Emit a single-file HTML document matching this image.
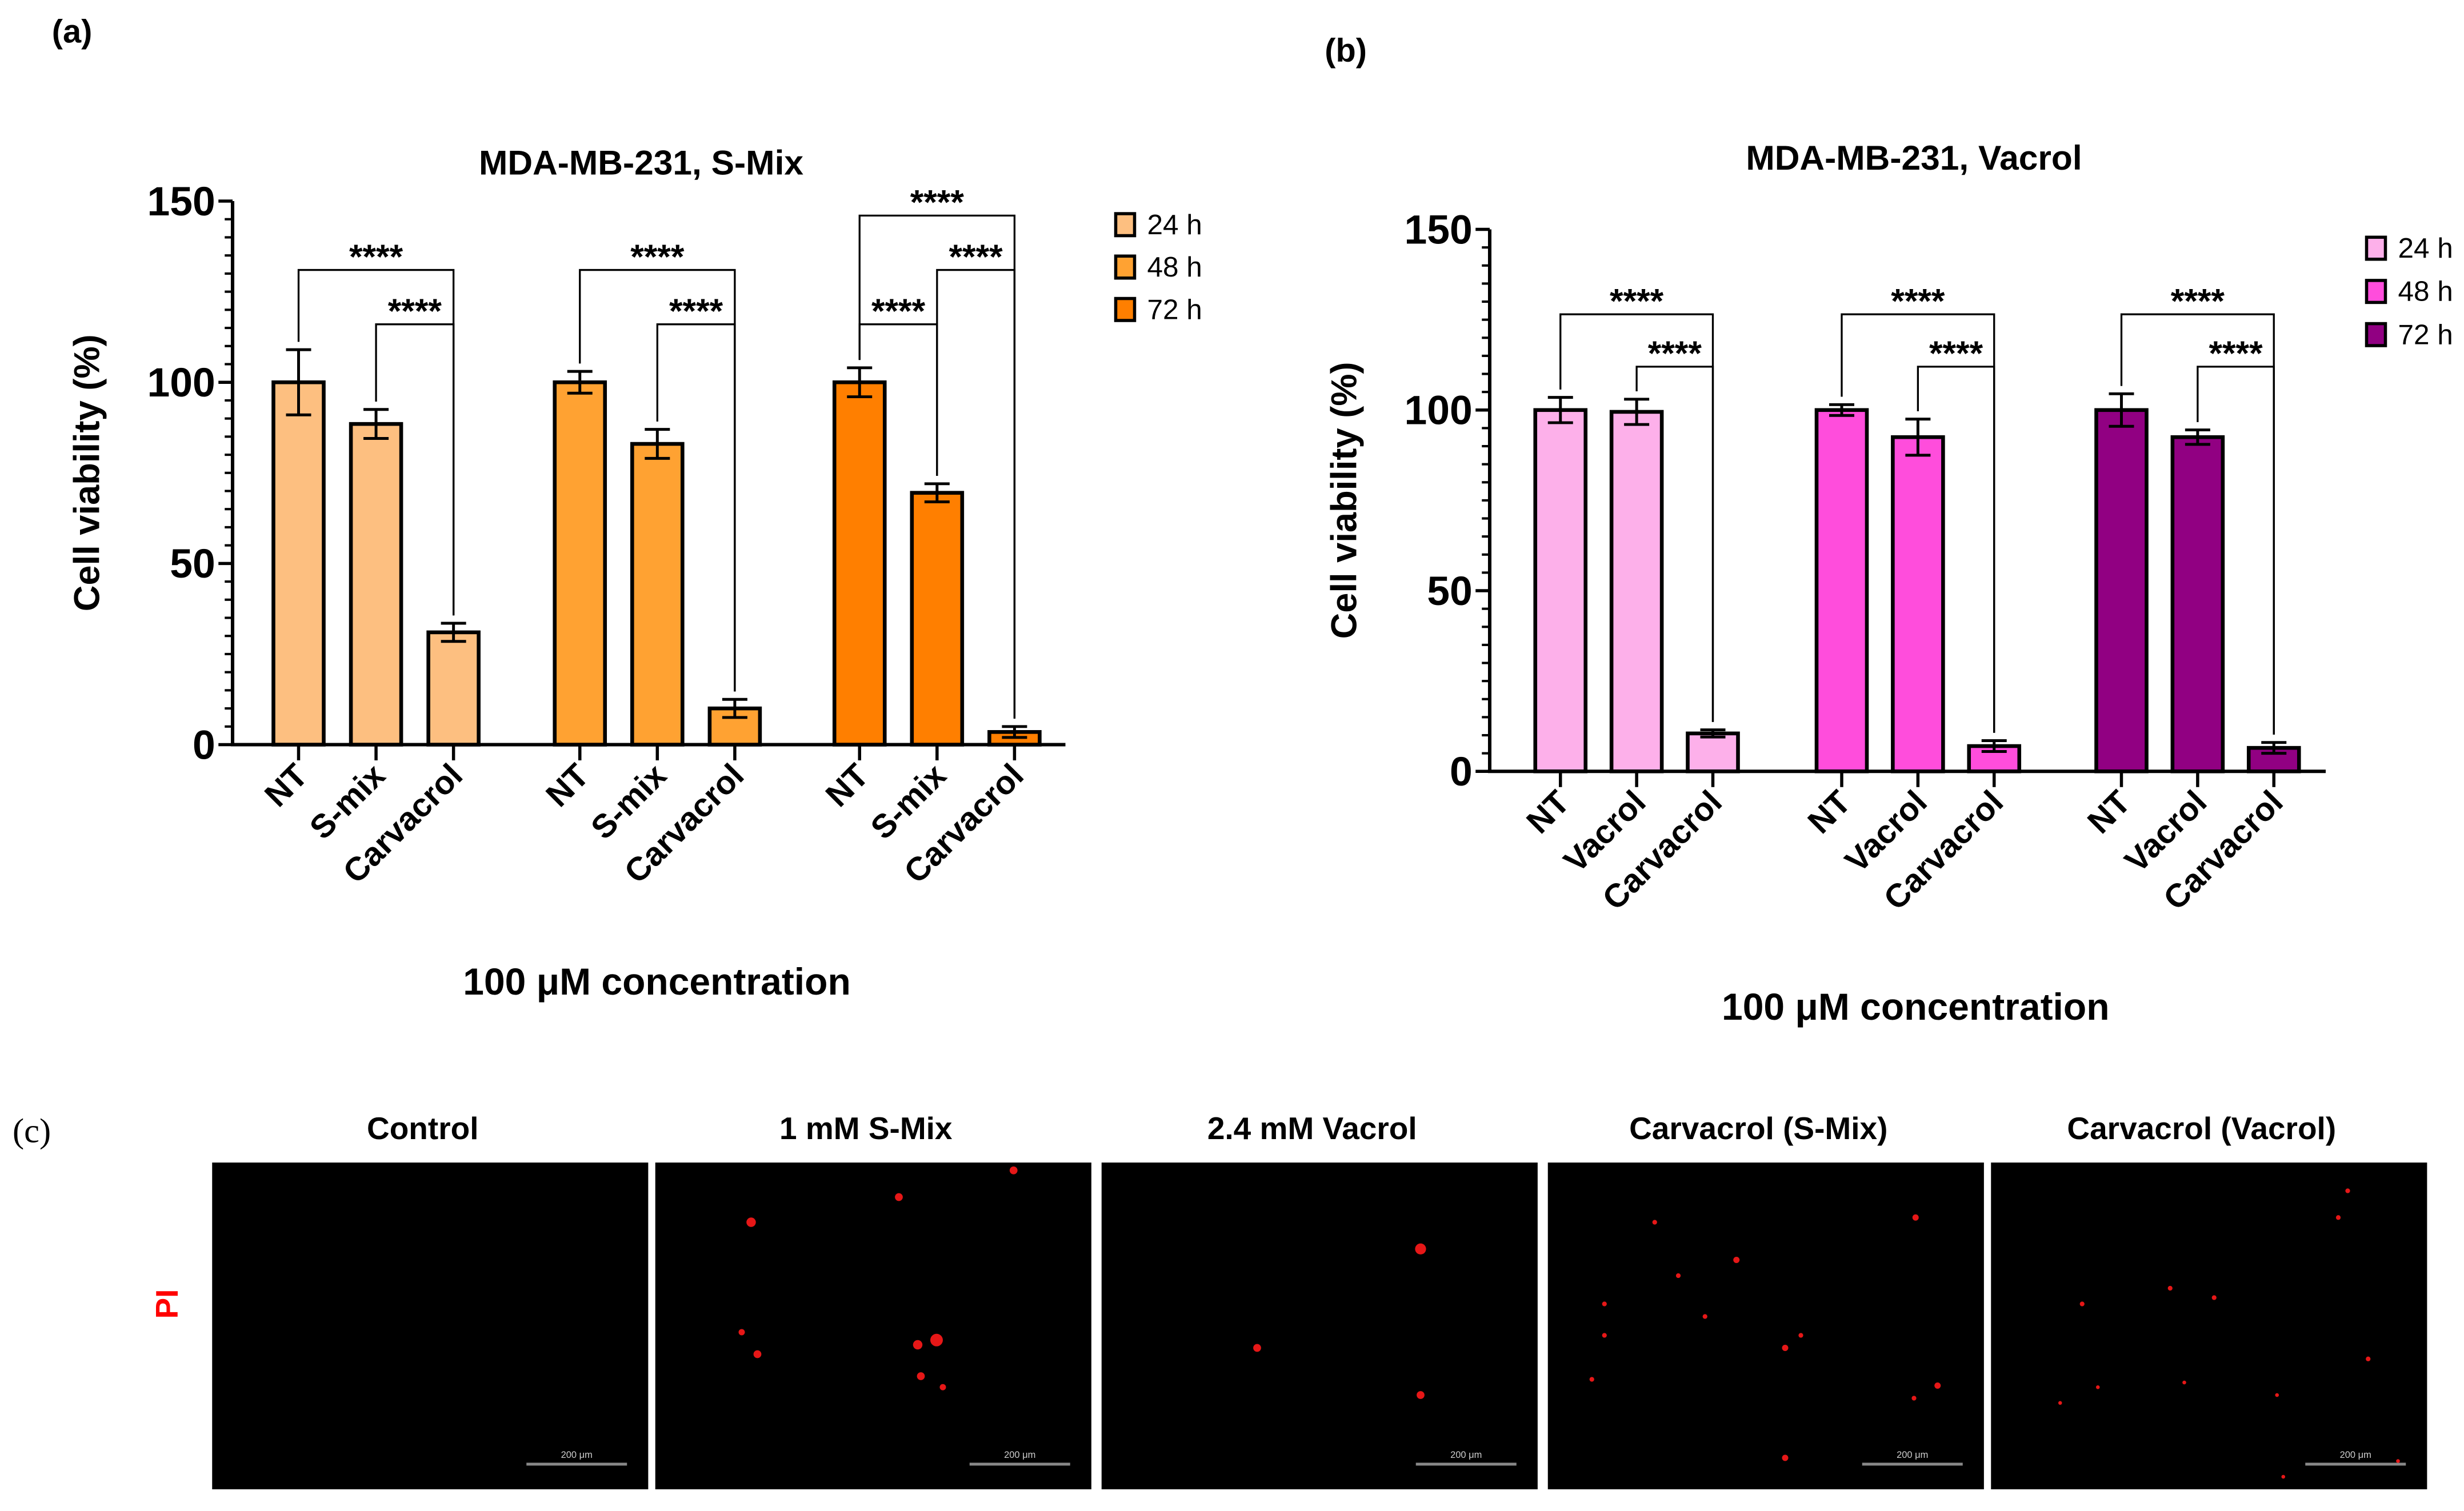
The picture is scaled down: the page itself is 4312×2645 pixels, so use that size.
<!DOCTYPE html>
<html><head><meta charset="utf-8"><style>
html,body{margin:0;padding:0;background:#fff;}
svg{display:block;font-family:"Liberation Sans",Arial,sans-serif;}
</style></head><body>
<svg id="fig" width="4312" height="2645" viewBox="0 0 1568 961.8" xmlns="http://www.w3.org/2000/svg">
<rect x="0" y="0" width="1568" height="962" fill="#fff"/>
<g id="pa"></g>
<g id="pb"></g>
<g id="pc"></g>
</svg>
<script>
// ---- Panel A data ----
const aCategories = ["NT","S-mix","Carvacrol"];
const aSeries = ["24 h","48 h","72 h"];
const aValues24 = [100, 88.5, 31];
const aValues48 = [100, 83, 10];
const aValues72 = [100, 69.5, 3.5];
const aErr24 = [9, 4, 2.5];
const aErr48 = [3, 4, 2.5];
const aErr72 = [4, 2.5, 1.5];
const aTicks = [0, 50, 100, 150];
// ---- Panel B data ----
const bCategories = ["NT","Vacrol","Carvacrol"];
const bSeries = ["24 h","48 h","72 h"];
const bValues24 = [100, 99.5, 10.5];
const bValues48 = [100, 92.5, 7];
const bValues72 = [100, 92.5, 6.5];
const bErr24 = [3.5, 3.5, 1];
const bErr48 = [1.5, 5, 1.5];
const bErr72 = [4.5, 2, 1.5];
const bTicks = [0, 50, 100, 150];

const NS="http://www.w3.org/2000/svg";
function mk(parent, tag, attrs, text){
  const e=document.createElementNS(NS,tag);
  for(const k in attrs) e.setAttribute(k,attrs[k]);
  if(text!==undefined) e.textContent=text;
  parent.appendChild(e); return e;
}

function chart(g, cfg){
  const y = v => cfg.y0 - (v/150)*(cfg.y0-cfg.y150);
  const xc = (gi,ci) => cfg.gx[gi] + ci*cfg.step;
  let t=mk(g,'text',{x:cfg.titleX,y:cfg.titleY,'text-anchor':'middle','font-size':22,'font-weight':'bold'},cfg.title);
  
  
  cfg.vals.forEach((arr,gi)=>{
    arr.forEach((v,ci)=>{
      const cx=xc(gi,ci), bw=32;
      const r=mk(g,'rect',{x:cx-bw/2,y:y(v),width:bw,height:cfg.y0-y(v),fill:cfg.colors[gi],stroke:'#000','stroke-width':2.4});
      
      
      const e=cfg.errs[gi][ci];
      const eg=mk(g,'path',{d:`M${cx} ${y(v+e)}V${y(v-e)}M${cx-8} ${y(v+e)}H${cx+8}M${cx-8} ${y(v-e)}H${cx+8}`,stroke:'#000','stroke-width':1.8,fill:'none'});
      
      
    });
  });
  const ax=mk(g,'path',{d:`M${cfg.ax} ${cfg.y150}V${cfg.y0}H${cfg.axEnd}`,stroke:'#000','stroke-width':2.2,fill:'none'});
  
  
  for(let v=0; v<=150; v+=5){
    const major = v%50===0;
    mk(g,'line',{x1:cfg.ax-(major?9:5),x2:cfg.ax,y1:y(v),y2:y(v),stroke:'#000','stroke-width':major?2:1.5});
  }
  cfg.ticks.forEach(v=>{
    const tl=mk(g,'text',{x:cfg.ax-11,y:y(v)+9,'text-anchor':'end','font-size':26,'font-weight':'bold'},String(v));
    
    
  });
  const yt=mk(g,'text',{transform:`translate(${cfg.ylx},${(cfg.y0+cfg.y150)/2}) rotate(-90)`,'text-anchor':'middle','font-size':23,'font-weight':'bold'},'Cell viability (%)');
  
  
  cfg.vals.forEach((arr,gi)=>{
    cfg.cats.forEach((c,ci)=>{
      const cx=xc(gi,ci);
      mk(g,'line',{x1:cx,x2:cx,y1:cfg.y0,y2:cfg.y0+10,stroke:'#000','stroke-width':2});
      const xl=mk(g,'text',{transform:`translate(${cx+7},${cfg.y0+21}) rotate(-45)`,'text-anchor':'end','font-size':21,'font-weight':'bold'},c);
      
      
    });
  });
  const xt=mk(g,'text',{x:cfg.xtX,y:cfg.xtY,'text-anchor':'middle','font-size':24,'font-weight':'bold'},'100 μM concentration');
  
  
  cfg.brackets.forEach(b=>{
    const x1=xc(b.g,b.a), x2=xc(b.g,b.b), yb=y(b.v);
    const v1=cfg.vals[b.g][b.a]+cfg.errs[b.g][b.a], v2=cfg.vals[b.g][b.b]+cfg.errs[b.g][b.b];
    const p=mk(g,'path',{d:`M${x1} ${y(v1)-5}V${yb}H${x2}V${y(v2)-5}`,stroke:'#000','stroke-width':1.2,fill:'none'});
    
    
    const st=mk(g,'text',{x:(x1+x2)/2,y:yb-1,'text-anchor':'middle','font-size':22,'font-weight':'bold'},'****');
    
    
  });
  cfg.series.forEach((s,i)=>{
    const ly=cfg.legY+i*cfg.legStep;
    const lr=mk(g,'rect',{x:cfg.legX,y:ly-7,width:12,height:14,fill:cfg.colors[i],stroke:'#000','stroke-width':2});
    
    
    const lt=mk(g,'text',{x:cfg.legX+20,y:ly+6,'font-size':18},s);
    
    
  });
  const pl=mk(g,'text',{x:cfg.plX,y:cfg.plY,'font-size':21,'font-weight':'bold'},cfg.pl);
  
  
}

chart(document.getElementById('pa'),{
  title:'MDA-MB-231, S-Mix', titleX:408, titleY:111, pl:'(a)', plX:33, plY:27,
  y0:474, y150:128, ax:148, axEnd:678, gx:[190,369,547], step:49.3,
  cats:aCategories, series:aSeries, ticks:aTicks,
  vals:[aValues24,aValues48,aValues72], errs:[aErr24,aErr48,aErr72],
  colors:['#FDBF80','#FFA232','#FF7F00'], ylx:63, xtX:418, xtY:633,
  legX:710, legY:143, legStep:27,
  brackets:[{g:0,a:0,b:2,v:131},{g:0,a:1,b:2,v:116},{g:1,a:0,b:2,v:131},{g:1,a:1,b:2,v:116},{g:2,a:0,b:2,v:146},{g:2,a:1,b:2,v:131},{g:2,a:0,b:1,v:116}]
});
chart(document.getElementById('pb'),{
  title:'MDA-MB-231, Vacrol', titleX:1218, titleY:108, pl:'(b)', plX:843, plY:39,
  y0:491, y150:146, ax:948, axEnd:1480, gx:[993,1172,1350], step:48.5,
  cats:bCategories, series:bSeries, ticks:bTicks,
  vals:[bValues24,bValues48,bValues72], errs:[bErr24,bErr48,bErr72],
  colors:['#FDB0EA','#FF4DDC','#910082'], ylx:863, xtX:1219, xtY:649,
  legX:1506, legY:158, legStep:27.5,
  brackets:[{g:0,a:0,b:2,v:126.5},{g:0,a:1,b:2,v:112},{g:1,a:0,b:2,v:126.5},{g:1,a:1,b:2,v:112},{g:2,a:0,b:2,v:126.5},{g:2,a:1,b:2,v:112}]
});

// ---- Panel C ----
const pc=document.getElementById('pc');
const panelTitles=["Control","1 mM S-Mix","2.4 mM Vacrol","Carvacrol (S-Mix)","Carvacrol (Vacrol)"];
const panelX=[135,417,701,985,1267];
const dots=[[],
 [[645,745,2.5],[572,762,2.5],[478,778,3],[472,848,2],[596,853,4],[584,856,3],[482,862,2.5],[586,876,2.5],[600,883,2]],
 [[904,795,3.5],[800,858,2.5],[904,888,2.5]],
 [[1219,775,2],[1105,802,2],[1053,778,1.5],[1068,812,1.5],[1085,838,1.5],[1136,858,2],[1146,850,1.5],[1021,850,1.5],[1013,878,1.5],[1233,882,2],[1218,890,1.5],[1136,928,2],[1021,830,1.5]],
 [[1494,758,1.5],[1488,775,1.5],[1409,826,1.5],[1381,820,1.5],[1325,830,1.5],[1507,865,1.5],[1449,888,1.2],[1311,893,1.2],[1335,883,1.2],[1390,880,1.2],[1453,940,1.2],[1526,930,1.2]]];
let lbl=mk(pc,'text',{x:8,y:727,'font-size':22,'font-family':'Liberation Serif, serif'},'(c)');


let pi=mk(pc,'text',{transform:'translate(113,830) rotate(-90)','text-anchor':'middle','font-size':20,'font-weight':'bold',fill:'#ff0000'},'PI');


panelTitles.forEach((t,i)=>{
  const x=panelX[i];
  const tt=mk(pc,'text',{x:x+134,y:725,'text-anchor':'middle','font-size':20,'font-weight':'bold'},t);
  
  
  const r=mk(pc,'rect',{x:x,y:740,width:277.5,height:208,fill:'#000'});
  
  
  mk(pc,'line',{x1:x+200,x2:x+264,y1:932,y2:932,stroke:'#888','stroke-width':1.8});
  mk(pc,'text',{x:x+232,y:928,'text-anchor':'middle','font-size':6,fill:'#ccc'},'200 μm');
  dots[i].forEach(d=>{
    mk(pc,'circle',{cx:d[0],cy:d[1],r:d[2],fill:'#ff1a1a',opacity:0.9});
  });
});
</script>
</body></html>
